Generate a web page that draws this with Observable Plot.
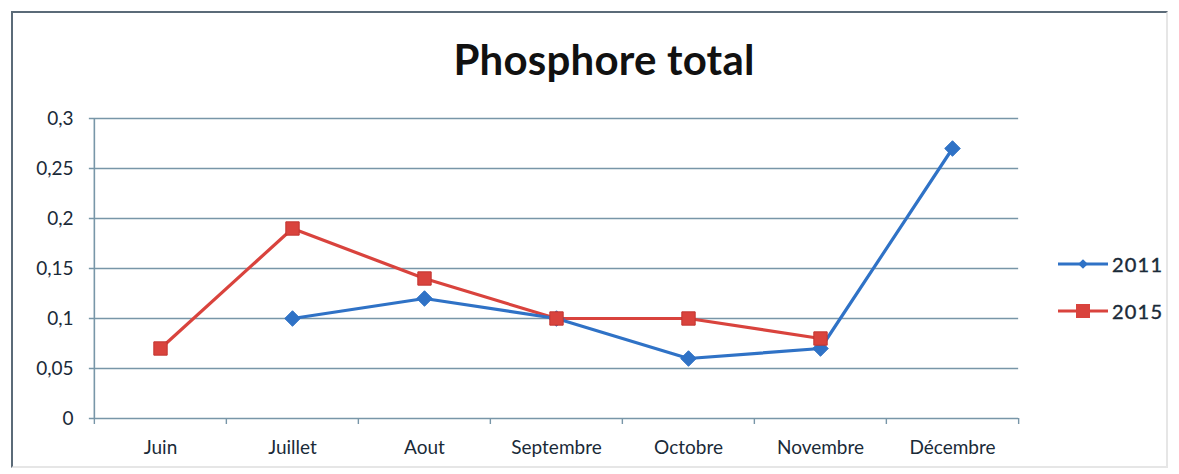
<!DOCTYPE html>
<html>
<head>
<meta charset="utf-8">
<script src="https://cdn.jsdelivr.net/npm/d3@7"></script>
<script src="https://cdn.jsdelivr.net/npm/@observablehq/plot@0.6"></script>
<style>
  html, body { margin: 0; padding: 0; background: #fff; }
  #wrap { position: relative; width: 1179px; height: 474px; overflow: hidden; font-family: Lato, "Open Sans", sans-serif; }
  #frame { position: absolute; left: 11px; top: 11px; width: 1157px; height: 457px; border: 2px solid #5b6b78; border-right-color: #e6e6e6; border-bottom-color: #e6e6e6; box-sizing: border-box; }
  #title { position: absolute; left: 0; width: 1208px; top: 34px; text-align: center; font-weight: bold; font-size: 42px; color: #111; letter-spacing: 0.2px; }
  #chart { position: absolute; left: 0; top: 0; }
  #legend { position: absolute; left: 1056px; top: 250px; font-size: 20px; color: #1a2a38; letter-spacing: 1.2px; -webkit-text-stroke: 0.4px #1a2a38; }
  .li { display: flex; align-items: center; height: 28px; margin-bottom: 19px; }
  .li svg { margin-right: 2px; }
</style>
</head>
<body>
<div id="wrap">
  <div id="frame"></div>
  <div id="title">Phosphore total</div>
  <div id="chart"></div>
  <div id="legend"></div>
</div>
<script>
const months = ["Juin", "Juillet", "Aout", "Septembre", "Octobre", "Novembre", "Décembre"];
const series = ["2011", "2015"];
const values2011 = [null, 0.10, 0.12, 0.10, 0.06, 0.07, 0.27];
const values2015 = [0.07, 0.19, 0.14, 0.10, 0.10, 0.08, null];
const yTicks = [0, 0.05, 0.1, 0.15, 0.2, 0.25, 0.3];
const colors = ["#2f72c6", "#d9433d"];

const rows = [];
months.forEach((m, i) => {
  if (values2011[i] != null) rows.push({month: m, year: "2011", value: values2011[i]});
  if (values2015[i] != null) rows.push({month: m, year: "2015", value: values2015[i]});
});

const W = 1179, H = 474;
const mL = 93, mR = 160, mT = 118, mB = 56;
const step = (W - mL - mR) / months.length;
const grid = "#7896a8";
const textColor = "#1a2a38";
const fmt = d => d === 0 ? "0" : String(+d.toFixed(2)).replace(".", ",");
const first = months[0], last = months[months.length - 1];

const plot = Plot.plot({
  width: W, height: H,
  marginLeft: mL, marginRight: mR, marginTop: mT, marginBottom: mB,
  style: {fontFamily: "Lato, 'Open Sans', sans-serif", fontSize: "19px", color: textColor, background: "transparent", overflow: "visible"},
  x: {type: "point", domain: months, padding: 0.5, label: null, axis: null},
  y: {type: "linear", domain: [0, 0.3], label: null, axis: null},
  color: {domain: series, range: colors},
  marks: [
    Plot.ruleY(yTicks, {y: d => d, x1: () => first, x2: () => last, stroke: grid, strokeWidth: 1.6,
      insetLeft: -step / 2 - 5, insetRight: -step / 2}),
    Plot.ruleX([first], {x: d => d, y1: 0, y2: 0.3, dx: -step / 2, stroke: grid, strokeWidth: 1.6}),
    Plot.ruleX(months, {x: d => d, y1: 0, y2: 0, insetBottom: -6, dx: -step / 2, stroke: grid, strokeWidth: 1.4}),
    Plot.ruleX([last], {x: d => d, y1: 0, y2: 0, insetBottom: -6, dx: step / 2, stroke: grid, strokeWidth: 1.4}),
    Plot.axisY(yTicks, {tickSize: 0, tickPadding: 20, tickFormat: fmt, fontSize: 19, fill: textColor, stroke: textColor, strokeWidth: 0.4, letterSpacing: "1.8px"}),
    Plot.axisX({tickSize: 0, tickPadding: 22, fontSize: 19, fill: textColor, stroke: textColor, strokeWidth: 0.4, letterSpacing: "1.2px"}),
    Plot.line(rows, {x: "month", y: "value", z: "year", stroke: "year", strokeWidth: 3.2}),
    Plot.dot(rows.filter(d => d.year === "2011"), {x: "month", y: "value", symbol: "diamond2", r: 7, fill: colors[0], stroke: colors[0], strokeWidth: 1}),
    Plot.dot(rows.filter(d => d.year === "2015"), {x: "month", y: "value", symbol: "square2", r: 8.5, fill: colors[1], stroke: "#c23530", strokeWidth: 1})
  ]
});
document.getElementById("chart").appendChild(plot);

// legend
const legend = d3.select("#legend");
series.forEach((s, i) => {
  const row = legend.append("div").attr("class", "li");
  const svg = row.append("svg").attr("width", 54).attr("height", 20);
  svg.append("line").attr("x1", 2).attr("x2", 52).attr("y1", 10).attr("y2", 10).attr("stroke", colors[i]).attr("stroke-width", 3.2);
  if (i === 0) svg.append("path").attr("d", d3.symbol(d3.symbolDiamond2, 60)()).attr("transform", "translate(27,10)").attr("fill", colors[0]);
  else svg.append("rect").attr("x", 20).attr("y", 3).attr("width", 14).attr("height", 14).attr("fill", colors[1]);
  row.append("span").text(s);
});
</script>
</body>
</html>
